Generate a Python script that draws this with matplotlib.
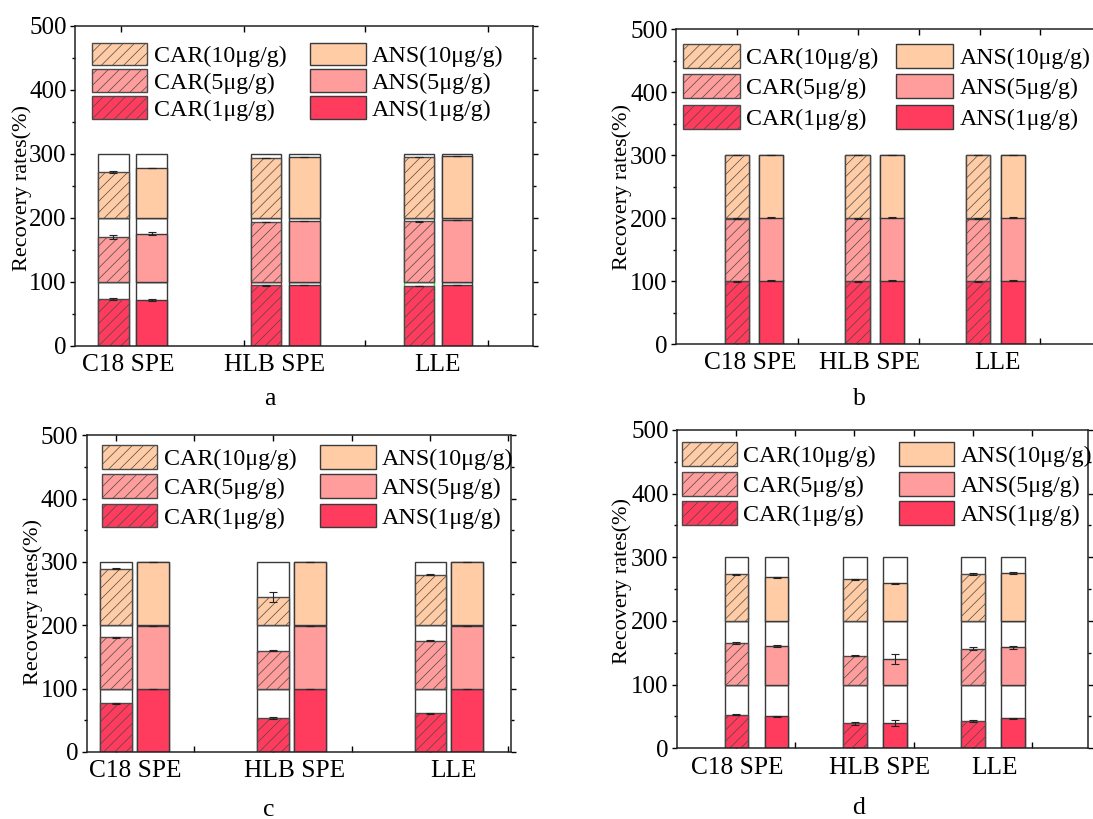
import numpy as np
import matplotlib
matplotlib.use("Agg")
import matplotlib.pyplot as plt

plt.rcParams['font.family'] = ['Liberation Serif', 'DejaVu Serif']
plt.rcParams['hatch.linewidth'] = 0.5

W, H = 1093, 819

methods = ['C18 SPE', 'HLB SPE', 'LLE']
levels = ['1μg/g', '5μg/g', '10μg/g']

# recovery rates (%), rows = 1, 5, 10 ug/g, columns = C18 SPE, HLB SPE, LLE
car_a = [[73, 94, 92.7], [70, 93.2, 93.8], [71, 93.2, 94.8]]
car_a_err = [[2, 0.5, 0.5], [3, 0.5, 0.5], [1.5, 0.5, 0.5]]
ans_a = [[71.4, 94.8, 94.8], [74.5, 94.3, 95.8], [77.6, 94.8, 95.8]]
ans_a_err = [[2, 0.3, 0.3], [2.5, 0.3, 0.3], [0.5, 0.3, 0.3]]

car_b = [[99.5, 99.5, 99.5], [99, 99.5, 99], [100, 100, 100]]
car_b_err = [[0.5, 0.5, 0.5], [0.5, 0.5, 0.5], [0.5, 0.5, 0.5]]
ans_b = [[101, 101, 101], [101, 101, 101], [100, 100, 100]]
ans_b_err = [[0.5, 0.5, 0.5], [0.5, 0.5, 0.5], [0.3, 0.3, 0.3]]

car_c = [[77, 53.7, 61], [81, 60, 75.8], [89.5, 45.3, 80]]
car_c_err = [[0.5, 1, 0.5], [0.5, 0.5, 1], [0.5, 8, 0.5]]
ans_c = [[99.5, 99.5, 99.5], [99, 99, 99], [100, 100, 100]]
ans_c_err = [[0.3, 0.3, 0.3], [0.3, 0.3, 0.3], [0.3, 0.3, 0.3]]

car_d = [[52.9, 39.3, 42.9], [65, 45.5, 56.5], [73.3, 65.4, 73.8]]
car_d_err = [[1, 2, 1.5], [1.5, 0.5, 2], [0.5, 0.5, 1.5]]
ans_d = [[50.3, 39.3, 47], [60.7, 40.8, 58.6], [68.6, 59.2, 75.4]]
ans_d_err = [[1, 5, 1], [2, 8, 2], [0.5, 0.5, 1.5]]

colors = ['#FF3C5E', '#FF9C9C', '#FFCCA5']
edge = '#3a3a3a'
hatch_edge = '#4a4a4a'

# panel layouts, in pixels of the 1093x819 picture
layouts = {
    'a': dict(box=(75, 25.5, 533, 345.5), xlim=(0.624, 3.622), off=0.125, width=0.2,
              ticks=[0.924, 1.728, 2.524, 3.327], labx=[0.971, 1.933, 2.997],
              legend=(92, 42.5), lfont=17.3, lpatch=(55.3, 26), lspace=0.1, colsp=1.0,
              lab=(270, 399), ylab=(22, 187.5),
              box_edges=[edge, 'red', '#22dd22']),
    'b': dict(box=(676, 29, 1097, 344), xlim=(0.354, 3.84), off=0.143, width=0.2,
              ticks=[0.859, 1.362, 1.863, 2.366, 2.868, 3.365], labx=[0.967, 1.96, 3.016],
              legend=(682.6, 44), lfont=17.2, lpatch=(57, 28), lspace=0.22, colsp=0.75,
              lab=(859, 399), ylab=(622, 187)),
    'c': dict(box=(86.5, 435.3, 511, 752), xlim=(0.695, 3.396), off=0.117, width=0.2,
              ticks=[0.882, 1.381, 1.883, 2.384, 2.88, 3.378], labx=[1.003, 2.018, 3.033],
              legend=(101.7, 445), lfont=17.3, lpatch=(55.4, 27.5), lspace=0.18, colsp=1.0,
              lab=(269, 810), ylab=(33, 601.7)),
    'd': dict(box=(677, 430, 1088, 748.3), xlim=(0.328, 3.801), off=0.17, width=0.2,
              ticks=[0.827, 1.325, 1.826, 2.331, 2.827, 3.325], labx=[0.835, 2.043, 3.015],
              legend=(681.6, 442), lfont=17.3, lpatch=(55.4, 27.7), lspace=0.19, colsp=0.95,
              lab=(859, 808), ylab=(622, 581)),
}

data = {
    'a': (car_a, car_a_err, ans_a, ans_a_err),
    'b': (car_b, car_b_err, ans_b, ans_b_err),
    'c': (car_c, car_c_err, ans_c, ans_c_err),
    'd': (car_d, car_d_err, ans_d, ans_d_err),
}

fig = plt.figure(figsize=(W / 100, H / 100), dpi=100)


def draw_panel(name):
    lay = layouts[name]
    car, car_err, ans, ans_err = data[name]
    l, t, r, b = lay['box']
    ax = fig.add_axes([l / W, 1 - b / H, (r - l) / W, (b - t) / H])
    x = np.arange(1, len(methods) + 1)
    w = lay['width']
    handles = {}
    for k in range(len(levels)):
        base = 100 * k
        for sub, vals, errs, hatch, xs in (('CAR', car, car_err, '///', x - lay['off']),
                                           ('ANS', ans, ans_err, None, x + lay['off'])):
            ecs = edge
            if sub == 'CAR' and k == 0 and 'box_edges' in lay:
                ecs = lay['box_edges']
            ax.bar(xs, 100, w, bottom=base, color='white', edgecolor=ecs, lw=1, zorder=1)
            h = ax.bar(xs, vals[k], w, bottom=base, color=colors[k], hatch=hatch,
                       edgecolor=hatch_edge if hatch else edge, lw=1, zorder=2)
            ax.errorbar(xs, base + np.array(vals[k]), yerr=errs[k], fmt='none',
                        ecolor='#222222', elinewidth=0.8, capsize=3, capthick=0.8, zorder=3)
            handles[(sub, k)] = h

    ax.set_xlim(*lay['xlim'])
    ax.set_ylim(0, 500)
    ax.set_yticks(range(0, 501, 100))
    ax.set_yticks(range(50, 500, 100), minor=True)
    ax.set_xticks(lay['labx'])
    ax.set_xticklabels(methods)
    ax.set_xticks(lay['ticks'], minor=True)
    ax.tick_params(axis='x', which='major', length=0, labelsize=18.3, pad=6)
    ax.tick_params(axis='x', which='minor', direction='in', length=4.5, width=1, top=True)
    ax.tick_params(axis='y', which='major', direction='out', length=3.5, width=1,
                   labelsize=18, pad=2.5)
    ax.tick_params(axis='y', which='minor', direction='out', length=2, width=1)
    ax.tick_params(axis='y', which='both', right=True)
    for s in ax.spines.values():
        s.set_linewidth(1.1)
        s.set_color('#222222')

    ax.set_ylabel('Recovery rates(%)', fontsize=16, va='center', ha='center')
    yx, yy = lay['ylab']
    ax.yaxis.set_label_coords((yx - l) / (r - l), (b - yy) / (b - t))

    order = [('CAR', 2), ('CAR', 1), ('CAR', 0), ('ANS', 2), ('ANS', 1), ('ANS', 0)]
    hs = [handles[o] for o in order]
    labels = ['%s(%s)' % (s, levels[k]) for s, k in order]
    lx, ly = lay['legend']
    fs = lay['lfont']
    em = fs * 100 / 72
    pw, ph = lay['lpatch']
    ax.legend(hs, labels, ncol=2, loc='upper left', bbox_to_anchor=(lx / W, 1 - ly / H),
              bbox_transform=fig.transFigure, frameon=False, fontsize=fs,
              handlelength=pw / em, handleheight=ph / em, handletextpad=0.27,
              columnspacing=lay['colsp'], labelspacing=lay['lspace'],
              borderpad=0, borderaxespad=0)

    px, py = lay['lab']
    fig.text(px / W, 1 - py / H, name, fontsize=18.5, ha='center', va='center')


for name in ['a', 'b', 'c', 'd']:
    draw_panel(name)

fig.savefig('out.png', dpi=100)
